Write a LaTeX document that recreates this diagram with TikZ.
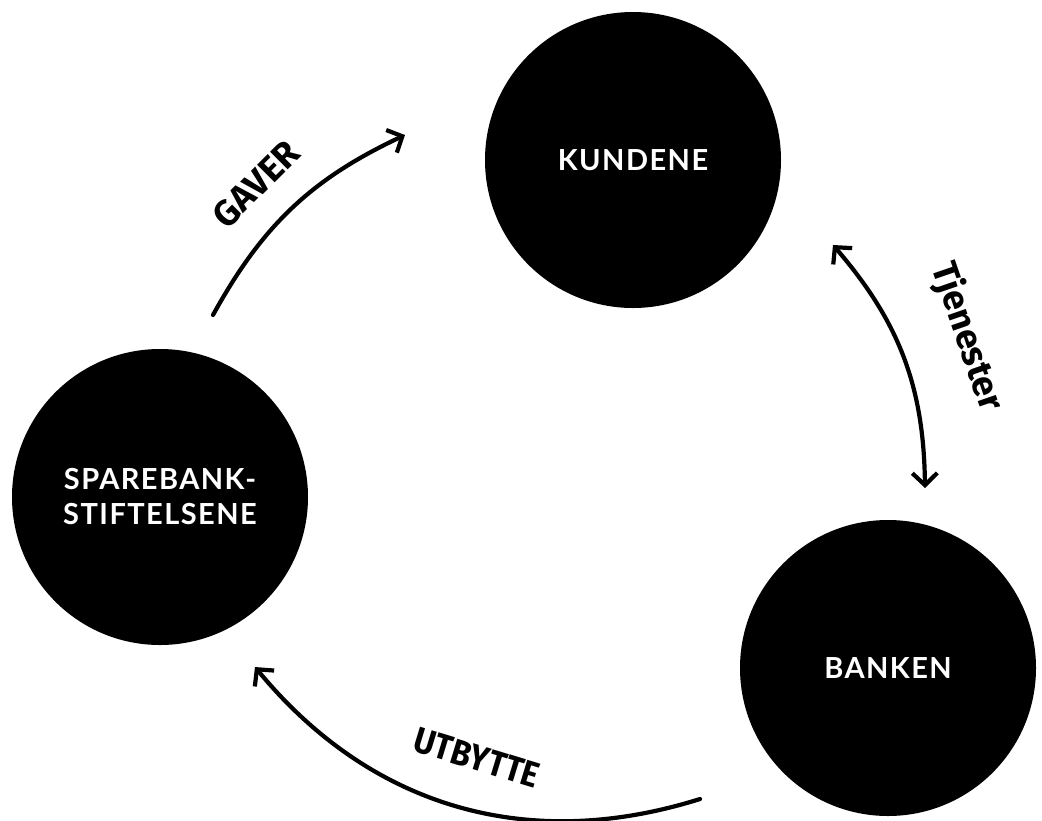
\documentclass[tikz,border=0pt]{standalone}
\usepackage{fontspec}
\setmainfont{Lato}
\newfontfamily\circfont{Lato}[LetterSpace=5]
\newfontfamily\labfont{Fira Sans}
\usetikzlibrary{arrows.meta}
\tikzset{
  ball/.style={circle, fill=black, minimum size=296pt, inner sep=0pt,
    text=white, font=\circfont\bfseries\fontsize{29}{35}\selectfont, align=center},
  flow/.style={line width=4.2pt, line cap=round,
    -{Straight Barb[length=12pt,width=25pt,line width=4.2pt]}},
  flowboth/.style={line width=4.2pt, line cap=round,
    {Straight Barb[length=12pt,width=25pt,line width=4.2pt]}-{Straight Barb[length=12pt,width=25pt,line width=4.2pt]}},
  lab/.style={font=\labfont\bfseries\fontsize{36}{40}\selectfont, inner sep=0pt}
}
\begin{document}
\begin{tikzpicture}[x=1pt,y=1pt]
\useasboundingbox (0,0) rectangle (1042,-820);
\clip (0,0) rectangle (1042,-820);
\node[ball] (k) at (633,-160) {KUNDENE};
\node[ball] (s) at (160,-497) {SPAREBANK-\\STIFTELSENE};
\node[ball] (b) at (888,-668) {BANKEN};
\coordinate (g1) at (213,-315);
\coordinate (g2) at (405,-135);
\coordinate (t1) at (833,-245);
\coordinate (t2) at (925,-488);
\coordinate (u1) at (700,-799);
\coordinate (u2) at (255,-667);
\draw[flow] (g1) to[bend left=18] (g2);
\draw[flowboth] (t1) to[bend left=20] (t2);
\draw[flow] (u1) to[bend left=34] (u2);
\node[lab, rotate=45] (gl) at (256,-184) {GAVER};
\node[lab, rotate=-71] (tl) at (967,-337) {Tjenester};
\node[lab, rotate=-17, xscale=0.9] (ul) at (477,-758) {UTBYTTE};
\end{tikzpicture}
\end{document}
